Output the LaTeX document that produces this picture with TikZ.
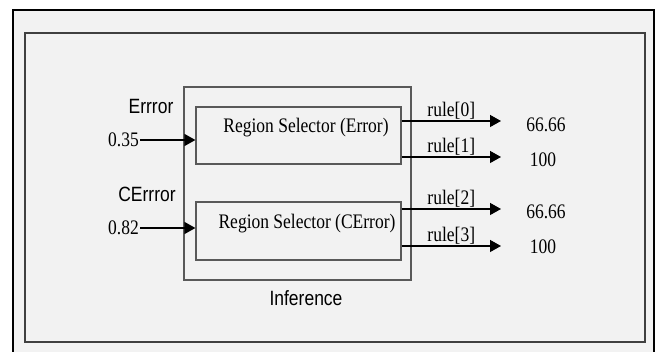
\documentclass[tikz,border=0pt]{standalone}
\usepackage{fontspec}
\setmainfont{Liberation Serif}
\newfontfamily\labelfont{Liberation Sans}
\usetikzlibrary{arrows.meta,positioning}
\definecolor{panel}{HTML}{F2F2F2}
\newcommand\tall[1]{\scalebox{1}[1.18]{#1}}
\tikzset{
  box/.style={draw=black!65, line width=1.2pt, rectangle, inner sep=0pt},
  link/.style={draw=black, line width=1.3pt, -{Triangle[length=11pt,width=12pt]}},
  sans/.style={font=\labelfont\fontsize{17.5}{20}\selectfont},
}
\begin{document}
\begin{tikzpicture}[x=1pt,y=-1pt,font=\fontsize{17.5}{20}\selectfont]
\useasboundingbox (0,0) rectangle (664,352);
\fill[panel] (13,10) rectangle (654,352);
\draw[black, line width=2pt] (13,353) -- (13,10) -- (654,10) -- (654,353);
\draw[black!75, line width=1.6pt] (25,33) rectangle (645,342);
% inference block and the two selectors
\node[box, minimum width=227pt, minimum height=193pt] (inf) at (297.5,183.5) {};
\node[box, minimum width=205pt, minimum height=57pt] (sel1) at (298.5,135.5) {};
\node[box, minimum width=205pt, minimum height=58pt] (sel2) at (298.5,231) {};
\node (t1) at (306,128) {\tall{Region Selector (Error)}};
\node (t2) at (307,224) {\tall{Region Selector (CError)}};
\node[sans] (inflabel) at (306,298) {\tall{Inference}};
% inputs
\node[sans] (n1) at (151,107) {\tall{Errror}};
\node[sans] (n2) at (147,194) {\tall{CErrror}};
\node[anchor=east, inner sep=1pt] (v1) at (140,140) {\tall{0.35}};
\node[anchor=east, inner sep=1pt] (v2) at (140,228) {\tall{0.82}};
\draw[link] (v1.east) -- (v1.east -| sel1.west);
\draw[link] (v2.east) -- (v2.east -| sel2.west);
% outputs
\coordinate (r0) at (501,121);
\coordinate (r1) at (501,157);
\coordinate (r2) at (501,209);
\coordinate (r3) at (501,246);
\draw[link] (sel1.east |- r0) -- node[above, inner sep=1pt] (l0) {\tall{rule[0]}} (r0);
\draw[link] (sel1.east |- r1) -- node[above, inner sep=1pt] (l1) {\tall{rule[1]}} (r1);
\draw[link] (sel2.east |- r2) -- node[above, inner sep=1pt] (l2) {\tall{rule[2]}} (r2);
\draw[link] (sel2.east |- r3) -- node[above, inner sep=1pt] (l3) {\tall{rule[3]}} (r3);
\node (o0) at (546,125) {\tall{66.66}};
\node (o1) at (543,160) {\tall{100}};
\node (o2) at (546,212) {\tall{66.66}};
\node (o3) at (543,247) {\tall{100}};
\end{tikzpicture}
\end{document}
